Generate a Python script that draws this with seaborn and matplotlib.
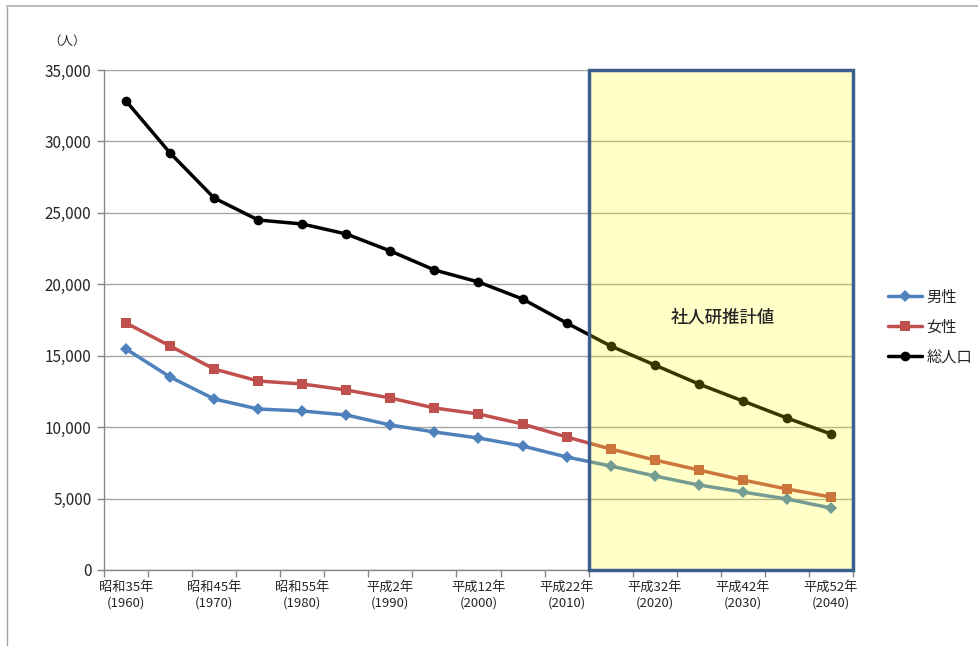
import pandas as pd
import matplotlib
matplotlib.use("Agg")
import matplotlib.pyplot as plt
import matplotlib.patches as mpatches
from matplotlib.ticker import FuncFormatter, MultipleLocator
import seaborn as sns

# data
years = [1960, 1965, 1970, 1975, 1980, 1985, 1990, 1995, 2000,
         2005, 2010, 2015, 2020, 2025, 2030, 2035, 2040]
tick_labels = ["昭和35年\n(1960)", "昭和45年\n(1970)", "昭和55年\n(1980)",
               "平成2年\n(1990)", "平成12年\n(2000)", "平成22年\n(2010)",
               "平成32年\n(2020)", "平成42年\n(2030)", "平成52年\n(2040)"]
male = [15470, 13510, 11970, 11270, 11130, 10850, 10150, 9660, 9240,
        8680, 7910, 7280, 6580, 5950, 5460, 4970, 4340]
female = [17290, 15680, 14070, 13230, 13020, 12600, 12040, 11340, 10920,
          10220, 9310, 8470, 7700, 7000, 6300, 5670, 5110]
total = [32830, 29190, 26040, 24500, 24220, 23520, 22330, 21000, 20160,
         18970, 17290, 15680, 14350, 13020, 11830, 10640, 9520]
series_names = ["男性", "女性", "総人口"]
projection_start = 2015

sns.set_theme(style="white")
plt.rcParams["font.family"] = ["Noto Sans CJK JP", "DejaVu Sans"]

df = pd.DataFrame({"year": years, "男性": male, "女性": female, "総人口": total})
df["pos"] = range(len(years))
long_df = df.melt(id_vars=["year", "pos"], value_vars=series_names,
                  var_name="series", value_name="people")

fig = plt.figure(figsize=(9.79, 6.46), dpi=100)
ax = fig.add_axes([104 / 979, 1 - 570 / 646, 749 / 979, 500 / 646])

colors = {"男性": "#4F81BD", "女性": "#C0504D", "総人口": "#000000"}
markers = {"男性": "D", "女性": "s", "総人口": "o"}
sizes = {"男性": 6, "女性": 7, "総人口": 7}

for name in series_names:
    sub = long_df[long_df["series"] == name]
    sns.lineplot(data=sub, x="pos", y="people", ax=ax, color=colors[name],
                 marker=markers[name], markersize=sizes[name],
                 markeredgewidth=0, linewidth=2.5, label=name, zorder=3)

n = len(years)
ax.set_xlim(-0.5, n - 0.5)
ax.set_ylim(0, 35000)
ax.yaxis.set_major_locator(MultipleLocator(5000))
ax.yaxis.set_major_formatter(FuncFormatter(lambda v, p: f"{int(v):,}"))
ax.grid(axis="y", color="#a6a6a6", linewidth=1)
ax.set_axisbelow(True)

ax.set_xticks(list(range(0, n, 2)))
ax.set_xticklabels(tick_labels, fontsize=9.5, linespacing=1.2)
ax.set_xticks([i - 0.5 for i in range(n + 1)], minor=True)
ax.tick_params(axis="x", which="major", length=0, pad=8)
ax.tick_params(axis="x", which="minor", length=5, color="#868686", width=1,
               direction="out", bottom=True)
ax.tick_params(axis="y", length=5, color="#868686", width=1, direction="out",
               left=True, labelsize=11, pad=4)
ax.set_xlabel("")
ax.set_ylabel("")

for side in ["top", "right"]:
    ax.spines[side].set_visible(False)
for side in ["left", "bottom"]:
    ax.spines[side].set_color("#868686")
    ax.spines[side].set_linewidth(1)

# projection box (社人研推計値)
start = years.index(projection_start) - 0.5
box = mpatches.Rectangle((start, 0), (n - 0.5) - start, 35000,
                         facecolor=(1, 1, 0, 0.22), edgecolor="#3A5F8F",
                         linewidth=2.5, zorder=4, clip_on=False)
ax.add_patch(box)
ax.text((start + n - 0.5) / 2 + 0.05, 17700, "社人研推計値", ha="center",
        va="center", fontsize=12.5, fontweight="medium", zorder=5)

ax.text(-1.34, 37030, "（人）", fontsize=9, ha="center", va="center")

leg = ax.legend(loc="center left", bbox_to_anchor=(885 / 979, 1 - 327 / 646),
                bbox_transform=fig.transFigure, frameon=False, fontsize=11,
                handlelength=2.2, labelspacing=0.85, handletextpad=0.3,
                borderaxespad=0, borderpad=0.2)

# outer chart frame (only top and left edges fall inside the image)
fig.add_artist(plt.Line2D([7 / 979, 7 / 979], [0, 1 - 6 / 646],
                          transform=fig.transFigure, color="#a0a0a0", lw=1))
fig.add_artist(plt.Line2D([7 / 979, 1], [1 - 6 / 646, 1 - 6 / 646],
                          transform=fig.transFigure, color="#bbbbbb", lw=1.5))

fig.savefig("out.png", dpi=100)
